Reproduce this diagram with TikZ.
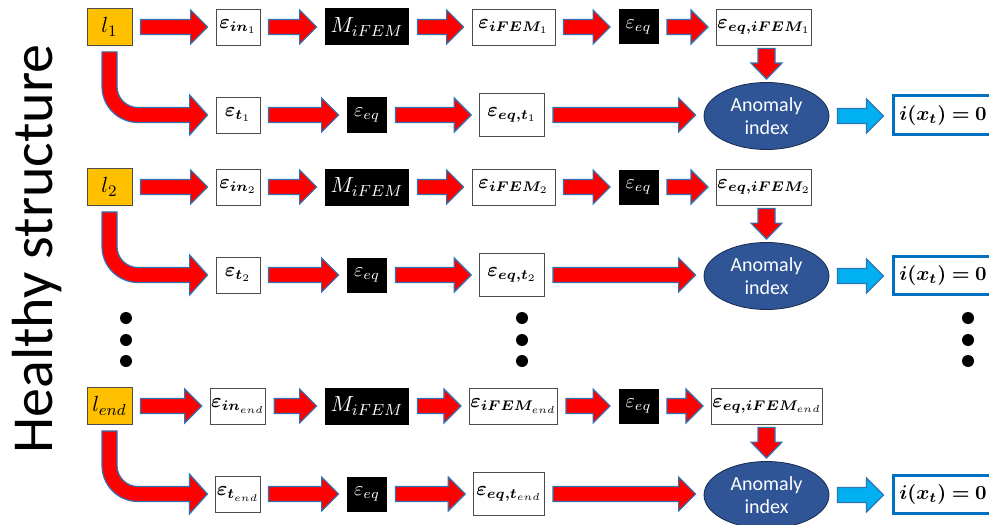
\documentclass[tikz,border=0pt]{standalone}
\usepackage{amsmath,bm}
\usepackage{fontspec}
\newfontfamily\calibri{Carlito}
\usetikzlibrary{calc,shapes.geometric}
\definecolor{hsorange}{HTML}{FFC000}
\definecolor{hsred}{HTML}{FF0000}
\definecolor{hsedge}{HTML}{2E75B6}
\definecolor{hscyan}{HTML}{00B0F0}
\definecolor{hsnavy}{HTML}{2F5597}
\definecolor{hsbox}{HTML}{0070C0}

% block arrow, left to right, from node #2 to node #3
\newcommand{\fatarrow}[3][redarrow]{%
  \draw[#1] let \p1=(#2.east), \p2=(#3.west) in
    (\x1+4pt,\y1+3.75pt) -- (\x2-12.5pt,\y1+3.75pt) -- (\x2-12.5pt,\y1+8.5pt)
    -- (\x2-4pt,\y1) -- (\x2-12.5pt,\y1-8.5pt) -- (\x2-12.5pt,\y1-3.75pt)
    -- (\x1+4pt,\y1-3.75pt) -- cycle;}
% block arrow, downwards, from node #1 to node #2
\newcommand{\fatdown}[2]{%
  \draw[redarrow] let \p1=(#1.south), \p2=(#2.north) in
    (\x2-4.25pt,\y1-1.5pt) -- (\x2-4.25pt,\y2+9.5pt) -- (\x2-7.75pt,\y2+9.5pt)
    -- (\x2,\y2+1.5pt) -- (\x2+7.75pt,\y2+9.5pt) -- (\x2+4.25pt,\y2+9.5pt)
    -- (\x2+4.25pt,\y1-1.5pt) -- cycle;}
% bent block arrow, down out of node #1 and right into node #2
\newcommand{\bendarrow}[2]{%
  \draw[redarrow] let \p1=(#1.south), \p2=(#2.west) in
    (\x1-3.75pt,\y1-3pt) -- (\x1-3.75pt,\y2+14.25pt)
    arc[start angle=180,end angle=270,radius=18pt]
    -- (\x2-13pt,\y2-3.75pt) -- (\x2-13pt,\y2-10pt) -- (\x2-4pt,\y2)
    -- (\x2-13pt,\y2+10pt) -- (\x2-13pt,\y2+3.75pt) -- (\x1+14.25pt,\y2+3.75pt)
    arc[start angle=270,end angle=180,radius=10.5pt]
    -- (\x1+3.75pt,\y1-3pt) -- cycle;}

\begin{document}
\begin{tikzpicture}[x=0.5pt,y=-0.5pt,line join=miter,
  font=\fontsize{10}{12}\selectfont,
  whitebox/.style={draw=black!70,fill=white,inner sep=0.5pt,minimum height=18pt},
  blackbox/.style={fill=black,text=white,inner sep=0.5pt,minimum height=17.5pt},
  loadbox/.style={draw=black!70,fill=hsorange,inner sep=1pt,minimum width=22.5pt,minimum height=18.5pt,
    font=\fontsize{11}{13}\selectfont},
  anomaly/.style={ellipse,draw=hsnavy!50!black,fill=hsnavy,text=white,inner sep=0pt,
    minimum width=62.5pt,minimum height=33.5pt,align=center,
    font=\calibri\fontsize{10}{11.5}\selectfont},
  resbox/.style={draw=hsbox,line width=1.5pt,fill=white,inner sep=1pt,
    minimum width=50pt,minimum height=19pt},
  redarrow/.style={fill=hsred,draw=hsedge,line width=0.6pt},
  cyanarrow/.style={fill=hscyan,draw=hsedge,line width=0.6pt}]
\useasboundingbox (0,0) rectangle (989,524);
\fill[white] (0,0) rectangle (989,524);
\node[rotate=90,anchor=base,font=\calibri\fontsize{29}{30}\selectfont] (title) at (52,249) {Healthy structure};

% one pair of rows per load case
\foreach \r/\dy/\s/\wa/\wb/\xb/\wc in {1/0/1/22/43/764/32.5, 2/160/2/22/43/764/32.5, 3/379/end/26.5/50/767/35.5}{
  \node[loadbox] (l\r) at (109.5,27+\dy) {$l_{\s}$};
  \node[whitebox,minimum width=\wa pt] (ein\r) at (238,27+\dy) {$\bm{\varepsilon}_{\bm{in}_{\s}}$};
  \node[blackbox,minimum width=42pt,minimum height=18.5pt,font=\fontsize{11}{13}\selectfont] (M\r) at (367,27+\dy) {$M_{iFEM}$};
  \node[whitebox,minimum width=41.5pt] (eif\r) at (513.5,27+\dy) {$\bm{\varepsilon}_{\bm{iFEM}_{\s}}$};
  \node[blackbox,minimum width=20pt] (eqa\r) at (638.5,27+\dy) {$\varepsilon_{eq}$};
  \node[whitebox,minimum width=\wb pt] (eqif\r) at (\xb,27+\dy) {$\bm{\varepsilon}_{\bm{eq,iFEM}_{\s}}$};
  \node[whitebox,minimum width=22pt] (et\r) at (238,115+\dy) {$\bm{\varepsilon}_{\bm{t}_{\s}}$};
  \node[blackbox,minimum width=20pt] (eqb\r) at (367,115+\dy) {$\varepsilon_{eq}$};
  \node[whitebox,anchor=east,minimum width=\wc pt,minimum height=21.5pt] (eqt\r) at (545,115+\dy) {$\bm{\varepsilon}_{\bm{eq,t}_{\s}}$};
  \node[anomaly] (ai\r) at (766.5,116+\dy) {Anomaly\\index};
  \node[resbox] (ix\r) at (943,115+\dy) {$\bm{i(x_t)=0}$};
  \fatarrow{l\r}{ein\r}
  \fatarrow{ein\r}{M\r}
  \fatarrow{M\r}{eif\r}
  \fatarrow{eif\r}{eqa\r}
  \fatarrow{eqa\r}{eqif\r}
  \fatdown{eqif\r}{ai\r}
  \bendarrow{l\r}{et\r}
  \fatarrow{et\r}{eqb\r}
  \fatarrow{eqb\r}{eqt\r}
  \fatarrow{eqt\r}{ai\r}
  \fatarrow[cyanarrow]{ai\r}{ix\r}
}

% elided load cases
\foreach \x in {126,522,968}
  \foreach \y in {318,340,361}
    \fill (\x,\y) circle[radius=3pt];
\end{tikzpicture}
\end{document}
